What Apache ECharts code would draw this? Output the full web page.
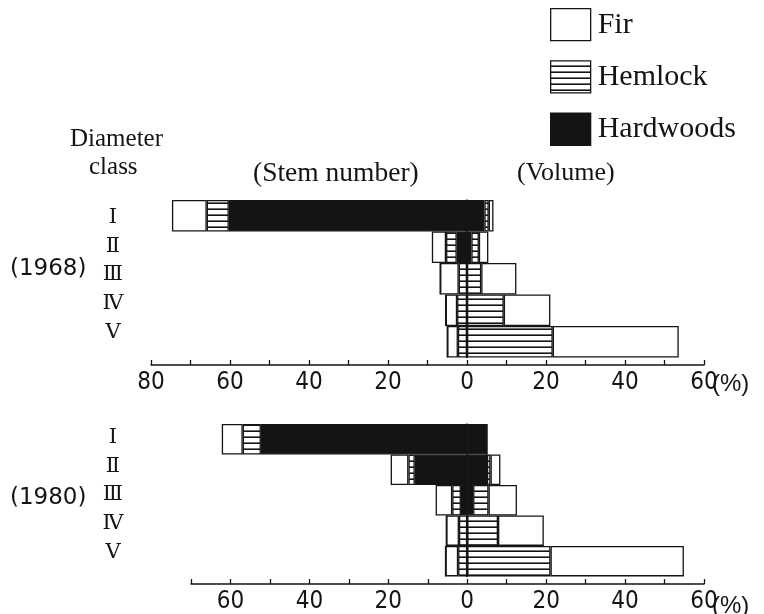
<!DOCTYPE html>
<html>
<head>
<meta charset="utf-8">
<script src="https://cdn.jsdelivr.net/npm/echarts@6/dist/echarts.min.js"></script>
<style>
  html, body { margin: 0; padding: 0; background: #fff; }
  #chart { width: 764px; height: 614px; }
</style>
</head>
<body>
<div id="chart"></div>
<script>
// ---- data ----
const classes = ['Ⅰ', 'Ⅱ', 'Ⅲ', 'Ⅳ', 'Ⅴ'];
const species = ['Fir', 'Hemlock', 'Hardwoods'];

// 1968 (%), stem number (left) and volume (right)
const stem1968Hardwoods = [60.3, 2.6, 0, 0, 0];
const stem1968Hemlock   = [5.6, 2.7, 2.1, 2.5, 2.3];
const stem1968Fir       = [8.8, 3.6, 4.7, 2.9, 2.7];
const vol1968Hardwoods  = [4.4, 1.1, 0, 0, 0];
const vol1968Hemlock    = [1.1, 1.9, 3.6, 9.3, 21.7];
const vol1968Fir        = [1.2, 2.4, 8.9, 11.8, 31.9];

// 1980 (%)
const stem1980Hardwoods = [52.3, 13.3, 1.6, 0, 0];
const stem1980Hemlock   = [4.6, 1.6, 2.2, 2.1, 2.3];
const stem1980Fir       = [5.3, 4.5, 4.2, 3.2, 3.2];
const vol1980Hardwoods  = [4.7, 5.0, 1.5, 0, 0];
const vol1980Hemlock    = [0, 0.9, 3.9, 7.8, 21.1];
const vol1980Fir        = [0.5, 2.5, 7.2, 11.6, 33.8];

const axis1968 = { min: -80, max: 60, step: 10 };
const axis1980 = { min: -70, max: 60, step: 10 };

// ---- styles ----
const INK = '#141414';
const pat = document.createElement('canvas');
pat.width = 8; pat.height = 6;
const pctx = pat.getContext('2d');
pctx.fillStyle = '#ffffff'; pctx.fillRect(0, 0, 8, 6);
pctx.fillStyle = INK; pctx.fillRect(0, 4.4, 8, 1.6);
const fills = {
  Fir: '#ffffff',
  Hemlock: { image: pat, repeat: 'repeat' },
  Hardwoods: INK
};

const neg = a => a.map(v => -v);

function barSeries(name, data, xi, yi, stack) {
  return {
    type: 'bar', name: name, data: data,
    xAxisIndex: xi, yAxisIndex: yi, stack: stack,
    barCategoryGap: '0%',
    itemStyle: { color: fills[name], borderColor: INK, borderWidth: 1.3 },
    emphasis: { disabled: true },
    animation: false
  };
}

const numFont = '"Liberation Sans Narrow", "DejaVu Sans Condensed", "Roboto Condensed", "Liberation Sans", sans-serif';
const valueAxisLabel = {
  inside: false, margin: 6,
  fontFamily: numFont,
  fontSize: 24, color: INK,
  formatter: v => (Math.abs(v) % 20 === 0 ? String(Math.abs(v)) : '')
};
function valueAxis(gi, range, offset) {
  return {
    type: 'value', gridIndex: gi, min: range.min, max: range.max, interval: range.step,
    position: 'bottom', offset: offset,
    axisLine: { show: true, onZero: false, lineStyle: { color: INK, width: 1.5 } },
    axisTick: { show: true, inside: true, length: 5, lineStyle: { color: INK, width: 1.3 } },
    axisLabel: valueAxisLabel,
    splitLine: { show: false }
  };
}
function hiddenValueAxis(gi) {
  return { type: 'value', gridIndex: gi, show: false, min: 0, max: 1 };
}
function barCatAxis(gi) {
  return {
    type: 'category', gridIndex: gi, data: classes, inverse: true, z: 5,
    axisLine: { show: true, onZero: true, lineStyle: { color: INK, width: 1.5 } },
    axisTick: { show: false }, axisLabel: { show: false }
  };
}
function labelCatAxis(gi) {
  return {
    type: 'category', gridIndex: gi, data: classes, inverse: true,
    axisLine: { show: false }, axisTick: { show: false },
    axisLabel: { margin: 0, align: 'center', fontFamily: '"DejaVu Serif", "Liberation Serif", serif', fontSize: 21, color: INK }
  };
}

const serif = '"Liberation Serif", "DejaVu Serif", serif';

const option = {
  backgroundColor: '#ffffff',
  animation: false,
  legend: {
    data: species, orient: 'vertical', left: 545, top: 3, icon: 'rect',
    itemWidth: 40, itemHeight: 32, itemGap: 19, selectedMode: false,
    textStyle: { fontFamily: serif, fontSize: 30, color: INK, lineHeight: 32, padding: [0, 0, 0, 2] },
    itemStyle: { borderColor: INK, borderWidth: 1.3 }
  },
  grid: [
    { left: 151, width: 553, top: 200, height: 157.5 },
    { left: 191, width: 513, top: 424, height: 156.7 },
    { left: 113, width: 2, top: 203, height: 143.5 },
    { left: 113, width: 2, top: 423, height: 143.5 }
  ],
  xAxis: [
    valueAxis(0, axis1968, 7.5),
    valueAxis(1, axis1980, 7.6),
    hiddenValueAxis(2),
    hiddenValueAxis(3)
  ],
  yAxis: [
    barCatAxis(0), barCatAxis(1), labelCatAxis(2), labelCatAxis(3)
  ],
  series: [
    barSeries('Hardwoods', neg(stem1968Hardwoods), 0, 0, 'y68'),
    barSeries('Hemlock',   neg(stem1968Hemlock),   0, 0, 'y68'),
    barSeries('Fir',       neg(stem1968Fir),       0, 0, 'y68'),
    barSeries('Hardwoods', vol1968Hardwoods, 0, 0, 'y68'),
    barSeries('Hemlock',   vol1968Hemlock,   0, 0, 'y68'),
    barSeries('Fir',       vol1968Fir,       0, 0, 'y68'),
    barSeries('Hardwoods', neg(stem1980Hardwoods), 1, 1, 'y80'),
    barSeries('Hemlock',   neg(stem1980Hemlock),   1, 1, 'y80'),
    barSeries('Fir',       neg(stem1980Fir),       1, 1, 'y80'),
    barSeries('Hardwoods', vol1980Hardwoods, 1, 1, 'y80'),
    barSeries('Hemlock',   vol1980Hemlock,   1, 1, 'y80'),
    barSeries('Fir',       vol1980Fir,       1, 1, 'y80'),
    { type: 'scatter', xAxisIndex: 2, yAxisIndex: 2, data: [], silent: true },
    { type: 'scatter', xAxisIndex: 3, yAxisIndex: 3, data: [], silent: true }
  ],
  graphic: [
    { type: 'text', left: 70, top: 127, style: { text: 'Diameter', fontSize: 25, fontFamily: serif, fill: INK } },
    { type: 'text', left: 89, top: 155, style: { text: 'class', fontSize: 25, fontFamily: serif, fill: INK } },
    { type: 'text', left: 253, top: 160, style: { text: '(Stem number)', fontSize: 27.5, fontFamily: serif, fill: INK } },
    { type: 'text', left: 517, top: 160, style: { text: '(Volume)', fontSize: 26, fontFamily: serif, fill: INK } },
    { type: 'text', left: 10, top: 258, style: { text: '(1968)', fontSize: 23, fontFamily: '"DejaVu Sans", sans-serif', fill: INK } },
    { type: 'text', left: 10, top: 487, style: { text: '(1980)', fontSize: 23, fontFamily: '"DejaVu Sans", sans-serif', fill: INK } },
    { type: 'text', left: 712, top: 372, style: { text: '(%)', fontSize: 24, fontFamily: '"Liberation Sans", sans-serif', fill: INK } },
    { type: 'text', left: 712, top: 594, style: { text: '(%)', fontSize: 24, fontFamily: '"Liberation Sans", sans-serif', fill: INK } }
  ]
};

const chart = echarts.init(document.getElementById('chart'), null, { renderer: 'canvas' });
chart.setOption(option);
</script>
</body>
</html>
